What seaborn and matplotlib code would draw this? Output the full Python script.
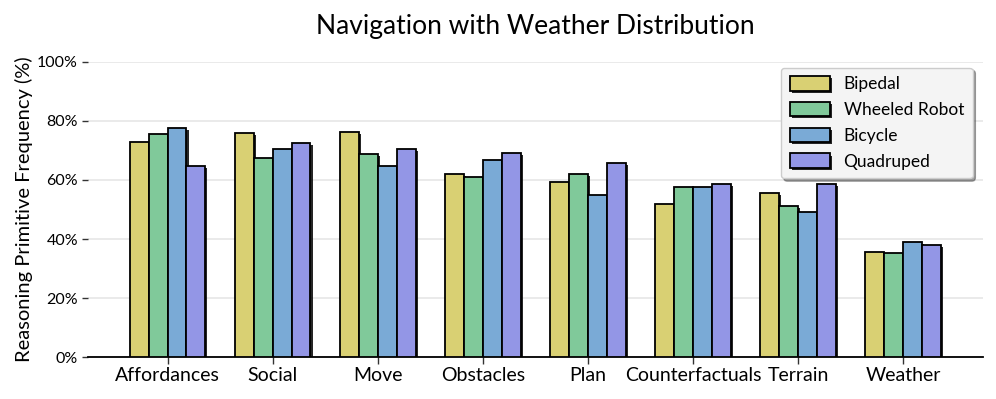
import matplotlib.pyplot as plt
import matplotlib.patheffects as pe
import seaborn as sns
import pandas as pd
from matplotlib.ticker import PercentFormatter

categories = ['Affordances', 'Social', 'Move', 'Obstacles', 'Plan',
              'Counterfactuals', 'Terrain', 'Weather']
robots = ['Bipedal', 'Wheeled Robot', 'Bicycle', 'Quadruped']

bipedal = [72.9, 75.9, 76.3, 62.0, 59.3, 51.9, 55.6, 35.6]
wheeled = [75.6, 67.5, 68.8, 61.0, 62.0, 57.6, 51.2, 35.3]
bicycle = [77.6, 70.5, 64.7, 66.8, 54.9, 57.6, 49.2, 39.0]
quadruped = [64.7, 72.5, 70.5, 69.2, 65.8, 58.6, 58.6, 38.0]

colors = ['#d9d073', '#80c99a', '#7aaad6', '#9396e6']

df = pd.DataFrame({'Bipedal': bipedal, 'Wheeled Robot': wheeled,
                   'Bicycle': bicycle, 'Quadruped': quadruped},
                  index=categories)
long = df.reset_index(names='Primitive').melt(
    id_vars='Primitive', var_name='Robot', value_name='Frequency')

sns.set_style('white')
plt.rcParams['font.family'] = ['Lato', 'DejaVu Sans']
plt.rcParams['text.color'] = 'black'
plt.rcParams['axes.labelcolor'] = 'black'
plt.rcParams['xtick.color'] = 'black'
plt.rcParams['ytick.color'] = 'black'

fig = plt.figure(figsize=(9.96, 3.99), dpi=100)
ax = fig.add_axes([0.088, 0.105, 0.899, 0.74])

sns.barplot(data=long, x='Primitive', y='Frequency', hue='Robot',
            hue_order=robots, palette=colors, saturation=1, width=0.72,
            gap=0, edgecolor='black', linewidth=1.3, ax=ax, zorder=3)

# drop shadow behind every bar
shadow = [pe.SimplePatchShadow(offset=(1.5, -1.5), shadow_rgbFace='black',
                               alpha=0.85), pe.Normal()]
for p in ax.patches:
    p.set_path_effects(shadow)

ax.set_xlim(-0.76, 7.76)
ax.set_ylim(0, 100)
ax.set_yticks([0, 20, 40, 60, 80, 100])
ax.yaxis.set_major_formatter(PercentFormatter(decimals=0))
ax.grid(axis='y', color='#e6e6e6', linewidth=1.2, zorder=0)
ax.set_axisbelow(True)

for s in ['top', 'right', 'left']:
    ax.spines[s].set_visible(False)
ax.spines['bottom'].set_color('black')
ax.spines['bottom'].set_linewidth(1.3)
ax.tick_params(axis='y', left=True, length=4, width=1, labelsize=11.5,
               color='#333333', pad=3)
ax.tick_params(axis='x', bottom=True, length=5, width=1, labelsize=14,
               color='#333333', pad=2)

ax.set_xlabel('')
ax.set_ylabel('Reasoning Primitive Frequency (%)', fontsize=14.5, labelpad=3)
ax.set_title('Navigation with Weather Distribution', fontsize=19, pad=20)

leg = ax.legend(loc='upper right', bbox_to_anchor=(0.998, 1.01),
                fontsize=12.5, frameon=True, shadow=True, fancybox=True,
                handlelength=2.3, handleheight=0.9, labelspacing=0.55,
                borderpad=0.5, handletextpad=0.8)
leg.get_frame().set_facecolor('#f4f4f4')
leg.get_frame().set_edgecolor('#cccccc')
leg.get_frame().set_alpha(1)
for h in leg.legend_handles:
    h.set_path_effects(shadow)

fig.savefig('out.png', dpi=100)
